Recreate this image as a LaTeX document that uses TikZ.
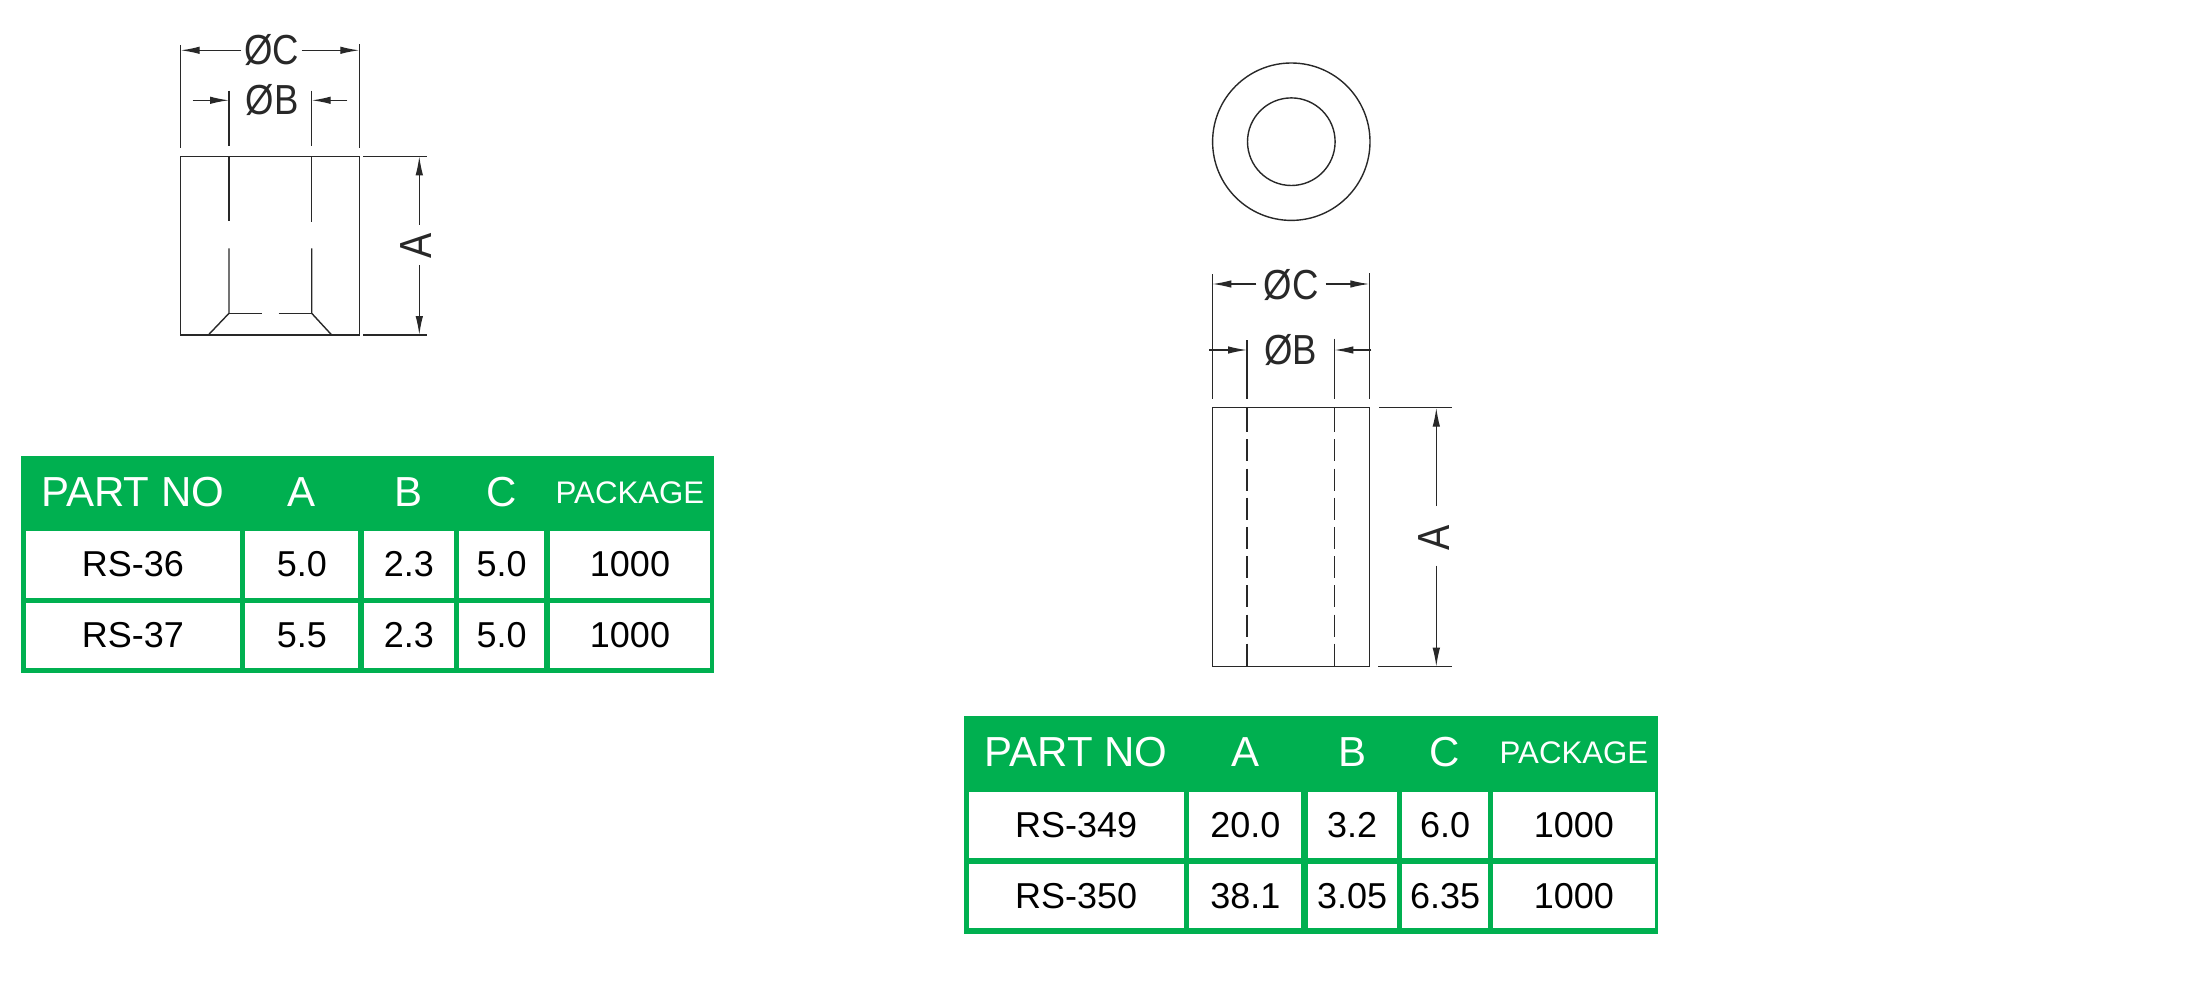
\documentclass[tikz,border=0pt]{standalone}
\usepackage{fontspec}
\setmainfont{Liberation Sans}
\newfontfamily\dimfont[FakeStretch=0.87]{Liberation Sans}
\newfontfamily\dimfontA[FakeStretch=0.84]{Liberation Sans}
\usetikzlibrary{positioning,arrows.meta}
\definecolor{tablegreen}{RGB}{0,176,80}
\definecolor{inkgrey}{RGB}{40,40,40}
\tikzset{
    part/.style={draw=inkgrey, line width=1.4pt},
    dimline/.style={draw=inkgrey, line width=1.3pt, -{Latex[length=19pt,width=7.5pt]}},
    extline/.style={draw=inkgrey, line width=1.3pt},
    dimlabel/.style={text=inkgrey, inner ysep=0pt, text height=30pt, text depth=0pt, font=\dimfont\fontsize{42}{46}\selectfont},
    dimlabelA/.style={text=inkgrey, inner ysep=0pt, text height=32pt, text depth=0pt, rotate=90, font=\dimfontA\fontsize{45}{50}\selectfont},
    plate/.style={fill=tablegreen, inner sep=0pt},
    cell/.style 2 args={fill=white, inner sep=0pt, minimum width=#1, minimum height=#2, text height=24pt, text depth=0pt, font=\fontsize{36}{42}\selectfont},
    headtext/.style={text=white, inner sep=0pt, text height=29pt, text depth=0pt, font=\fontsize{42}{46}\selectfont},
    headsmall/.style={text=white, inner sep=0pt, text height=22pt, text depth=0pt, font=\fontsize{31.2}{36}\selectfont},
}
\begin{document}
\begin{tikzpicture}[x=1pt, y=-1pt]
    \useasboundingbox (0,0) rectangle (2210,1000);

    % short spacer
    \draw[part] (180.7,156.3) rectangle (359.3,335); % body
    \draw[part] (229,156.3) -- (229,220.7);
    \draw[part] (229,248.3) -- (229,313.3) -- (208.3,335); % bore left, chamfer
    \draw[part] (311.7,156.3) -- (311.7,222);
    \draw[part] (311.7,248.3) -- (311.7,313.3) -- (331.7,335); % bore right, chamfer
    \draw[part] (229,313.3) -- (262.3,313.3);
    \draw[part] (278.7,313.3) -- (311.7,313.3);
    \draw[extline] (180.7,45) -- (180.7,148);
    \draw[extline] (359.3,44) -- (359.3,148);
    \draw[extline] (229,90.7) -- (229,146);
    \draw[extline] (311.7,90.7) -- (311.7,146);
    \draw[extline] (363,156.3) -- (426.7,156.3);
    \draw[extline] (363,335) -- (426.7,335);
    \node[dimlabel, inner xsep=2.6pt] (lblC) at (271.5,49.5) {ØC};
    \coordinate (cL) at (180.7,50.3);
    \coordinate (cR) at (359.3,50.3);
    \draw[dimline] (lblC.west |- cL) -- (cL);
    \draw[dimline] (lblC.east |- cR) -- (cR);
    \node[dimlabel, inner xsep=4pt] (lblB) at (272,100) {ØB};
    \coordinate (bLout) at (192.7,100.3);
    \coordinate (bL) at (229,100.3);
    \coordinate (bRout) at (347.3,100.3);
    \coordinate (bR) at (311.7,100.3);
    \draw[dimline] (bLout) -- (bL);
    \draw[dimline] (bRout) -- (bR);
    \node[dimlabelA, inner xsep=8.5pt] (lblA) at (415.5,246) {A};
    \coordinate (aTop) at (419.3,156.3);
    \coordinate (aBot) at (419.3,335);
    \draw[dimline] (419.3,225) -- (aTop);
    \draw[dimline] (419.3,265) -- (aBot);

    % first table
    \node[plate, minimum width=692.9pt, minimum height=217pt] (plateA) at (367.45,564.5) {};
    \node[cell={213.5pt}{67pt}] (rs36) at (132.85,564.5) {RS-36};
    \node[cell={113pt}{67pt}, right=5.4pt of rs36] (rs36a) {5.0};
    \node[cell={90pt}{67pt}, right=5pt of rs36a] (rs36b) {2.3};
    \node[cell={85pt}{67pt}, right=5pt of rs36b] (rs36c) {5.0};
    \node[cell={160.8pt}{67pt}, right=5pt of rs36c] (rs36p) {1000};
    \node[cell={213.5pt}{65pt}, below=5pt of rs36] (rs37) {RS-37};
    \node[cell={113pt}{65pt}, right=5.4pt of rs37] (rs37a) {5.5};
    \node[cell={90pt}{65pt}, right=5pt of rs37a] (rs37b) {2.3};
    \node[cell={85pt}{65pt}, right=5pt of rs37b] (rs37c) {5.0};
    \node[cell={160.8pt}{65pt}, right=5pt of rs37c] (rs37p) {1000};
    \node[headtext, above=24.5pt of rs36] (headPart) {PART NO};
    \node[headtext, above=24.5pt of rs36a] (headA) {A};
    \node[headtext, above=24.5pt of rs36b] (headB) {B};
    \node[headtext, above=24.5pt of rs36c] (headC) {C};
    \node[headsmall, above=26.7pt of rs36p] (headPack) {PACKAGE};

    % long spacer
    \node[draw=inkgrey, line width=1.4pt, circle, inner sep=0pt, minimum size=157.4pt] (rimOuter) at (1291.3,141.7) {}; % end view
    \node[draw=inkgrey, line width=1.4pt, circle, inner sep=0pt, minimum size=87.6pt] (rimInner) at (1291.3,141.7) {};
    \draw[part] (1212.3,407.7) rectangle (1369.3,666.7); % body
    \draw[part] (1247,407.7) -- (1247,432.4);
    \draw[part] (1334.3,407.7) -- (1334.3,432.4);
    \draw[part, dash pattern=on 22pt off 7.2pt] (1247,439.3) -- (1247,666.7); % bore
    \draw[part, dash pattern=on 22pt off 7.2pt] (1334.3,439.3) -- (1334.3,666.7);
    \draw[extline] (1212.3,274.3) -- (1212.3,399);
    \draw[extline] (1369.3,273.3) -- (1369.3,399);
    \draw[extline] (1247,340) -- (1247,399);
    \draw[extline] (1334.3,338.7) -- (1334.3,399);
    \draw[extline] (1379.3,407.7) -- (1452,407.7);
    \draw[extline] (1378,666.7) -- (1452,666.7);
    \node[dimlabel, inner xsep=7pt] (lblCC) at (1291,284) {ØC};
    \coordinate (ccL) at (1212.3,284);
    \coordinate (ccR) at (1369.3,284);
    \draw[dimline] (lblCC.west) -- (ccL);
    \draw[dimline] (lblCC.east) -- (ccR);
    \node[dimlabel, inner xsep=4pt] (lblBB) at (1290.5,349.5) {ØB};
    \coordinate (bbLout) at (1209,350);
    \coordinate (bbL) at (1247,350);
    \coordinate (bbRout) at (1371.3,350);
    \coordinate (bbR) at (1334.3,350);
    \draw[dimline] (bbLout) -- (bbL);
    \draw[dimline] (bbRout) -- (bbR);
    \node[dimlabelA, inner xsep=8.5pt] (lblAA) at (1433,538) {A};
    \coordinate (aaTop) at (1436.3,407.7);
    \coordinate (aaBot) at (1436.3,666.7);
    \draw[dimline] (1436.3,506) -- (aaTop);
    \draw[dimline] (1436.3,565.7) -- (aaBot);

    % second table
    \node[plate, minimum width=693.8pt, minimum height=218pt] (plateB) at (1311.1,825) {};
    \node[cell={214.8pt}{66pt}] (rs349) at (1076.2,825) {RS-349};
    \node[cell={112pt}{66pt}, right=5.4pt of rs349] (rs349a) {20.0};
    \node[cell={88.8pt}{66pt}, right=6pt of rs349a] (rs349b) {3.2};
    \node[cell={86.2pt}{66pt}, right=5pt of rs349b] (rs349c) {6.0};
    \node[cell={161.3pt}{66pt}, right=4.7pt of rs349c] (rs349p) {1000};
    \node[cell={214.8pt}{64pt}, below=6pt of rs349] (rs350) {RS-350};
    \node[cell={112pt}{64pt}, right=5.4pt of rs350] (rs350a) {38.1};
    \node[cell={88.8pt}{64pt}, right=6pt of rs350a] (rs350b) {3.05};
    \node[cell={86.2pt}{64pt}, right=5pt of rs350b] (rs350c) {6.35};
    \node[cell={161.3pt}{64pt}, right=4.7pt of rs350c] (rs350p) {1000};
    \node[headtext, above=24.8pt of rs349] (headPartB) {PART NO};
    \node[headtext, above=24.8pt of rs349a] (headAB) {A};
    \node[headtext, above=24.8pt of rs349b] (headBB) {B};
    \node[headtext, above=24.8pt of rs349c] (headCB) {C};
    \node[headsmall, above=28.3pt of rs349p] (headPackB) {PACKAGE};
\end{tikzpicture}
\end{document}
